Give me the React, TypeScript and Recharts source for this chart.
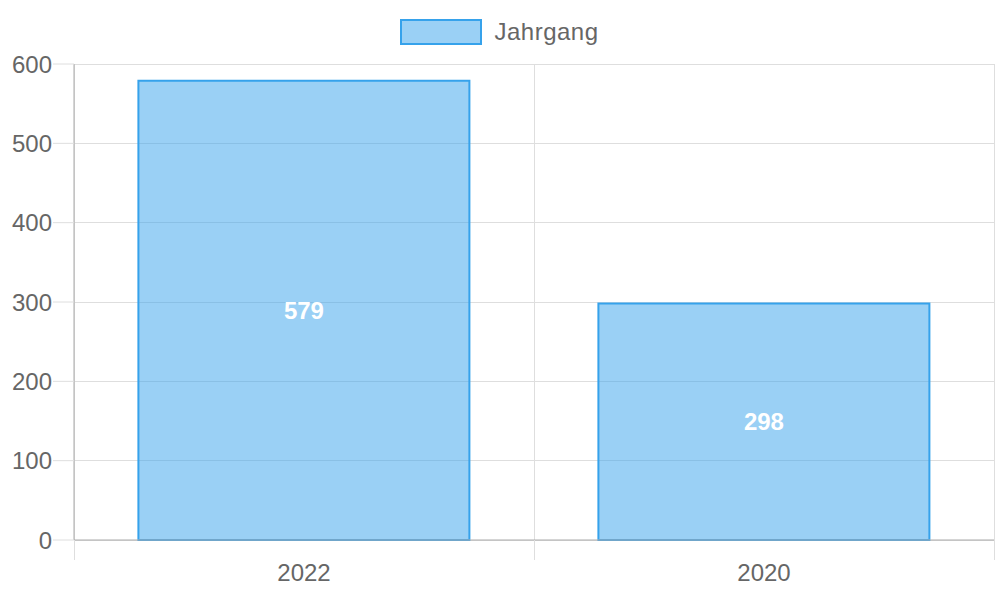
import React from 'react';
import { BarChart, Bar, XAxis, YAxis, CartesianGrid, Legend, LabelList } from 'recharts';

const categories = ['2022', '2020'];
const jahrgang = [579, 298];
const yTicks = [0, 100, 200, 300, 400, 500, 600];

const data = categories.map((name, i) => ({ name, Jahrgang: jahrgang[i] }));

const W = 1000;
const H = 600;
const margin = { top: 20, right: 6, bottom: 0, left: 0 };
const yAxisWidth = 74;
const plotWidth = W - margin.left - margin.right - yAxisWidth;
const bandWidth = plotWidth / categories.length;

const FONT = '"Liberation Sans", Arial, Helvetica, sans-serif';
const BLUE = '#36A2EB';
const FILL = 'rgba(54,162,235,0.5)';
const GRID = '#dedede';

const XTick = (props: any) => {
  const { x, y, payload, index } = props;
  const left = x - bandWidth / 2;
  const right = x + bandWidth / 2;
  return (
    <g>
      <line x1={left} y1={y - 20} x2={left} y2={y} stroke={GRID} strokeWidth={1} shapeRendering="crispEdges" />
      {index === categories.length - 1 && (
        <line x1={right} y1={y - 20} x2={right} y2={y} stroke={GRID} strokeWidth={1} shapeRendering="crispEdges" />
      )}
      <text x={x} y={y + 21} textAnchor="middle" fill="#666" fontSize={24} fontFamily={FONT}>
        {payload.value}
      </text>
    </g>
  );
};

const LegendBox = () => (
  <div style={{ height: 44, display: 'flex', justifyContent: 'center', alignItems: 'flex-start', paddingLeft: 5 }}>
    <div style={{ display: 'flex', alignItems: 'center', marginTop: -2 }}>
      <div
        style={{
          width: 78,
          height: 22,
          background: FILL,
          border: `2px solid ${BLUE}`,
          marginRight: 12,
        }}
      />
      <span style={{ fontFamily: FONT, fontSize: 24, color: '#666', letterSpacing: 0.5 }}>Jahrgang</span>
    </div>
  </div>
);

export default function App() {
  return (
    <div style={{ position: 'absolute', left: 0, top: 0, width: W, height: H, background: '#fff' }}>
      <BarChart width={W} height={H} data={data} margin={margin} barCategoryGap="14%">
        <Legend verticalAlign="top" align="center" content={<LegendBox />} />
        <CartesianGrid
          stroke={GRID}
          shapeRendering="crispEdges"
          verticalCoordinatesGenerator={({ offset }: any) => [
            offset.left,
            offset.left + offset.width / 2,
            offset.left + offset.width,
          ]}
        />
        <XAxis
          dataKey="name"
          height={60}
          tickSize={20}
          tickMargin={0}
          tickLine={{ stroke: 'none' }}
          axisLine={{ stroke: '#aaa' }}
          tick={<XTick />}
          interval={0}
        />
        <YAxis
          width={yAxisWidth}
          domain={[0, 600]}
          ticks={yTicks}
          tickSize={21}
          tickMargin={1}
          tickLine={{ stroke: GRID }}
          axisLine={{ stroke: '#aaa' }}
          tick={{ fill: '#666', fontSize: 24, fontFamily: FONT }}
        />
        <Bar dataKey="Jahrgang" fill={FILL} stroke={BLUE} strokeWidth={2} isAnimationActive={false}>
          <LabelList
            dataKey="Jahrgang"
            position="center"
            fill="#fff"
            fontSize={24}
            fontWeight="bold"
            fontFamily={FONT}
          />
        </Bar>
      </BarChart>
    </div>
  );
}
